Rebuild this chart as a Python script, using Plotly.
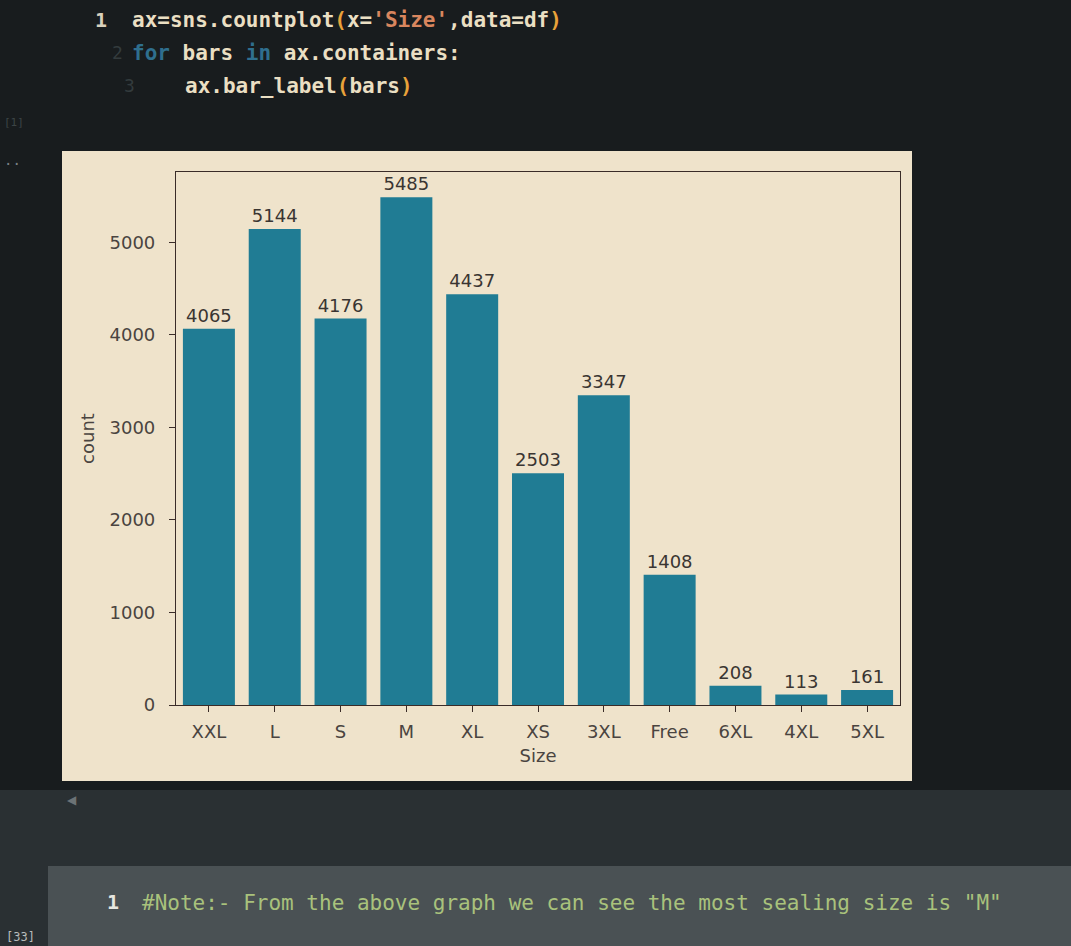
import plotly.graph_objects as go

sizes = ["XXL", "L", "S", "M", "XL", "XS", "3XL", "Free", "6XL", "4XL", "5XL"]
counts = [4065, 5144, 4176, 5485, 4437, 2503, 3347, 1408, 208, 113, 161]
y_ticks = [0, 1000, 2000, 3000, 4000, 5000]

W, H = 1071, 946
L, R, T, B = 176, 900, 172, 705  # plot area in pixels
pw, ph = R - L, B - T

def px(x):
    return (x - L) / pw

def py(y):
    return (B - y) / ph

fig = go.Figure()
fig.add_trace(go.Bar(
    x=sizes, y=counts, text=[str(c) for c in counts],
    textposition="outside", cliponaxis=False,
    textfont=dict(family="DejaVu Sans", size=18, color="#3a3532"),
    marker=dict(color="#207c94", line=dict(width=0)),
    width=0.79,
))

shapes = [
    dict(type="rect", xref="paper", yref="paper", x0=px(0), x1=px(W), y0=py(H), y1=py(0),
         fillcolor="#181c1e", line=dict(width=0), layer="below"),
    dict(type="rect", xref="paper", yref="paper", x0=px(0), x1=px(W), y0=py(H), y1=py(790),
         fillcolor="#2a3033", line=dict(width=0), layer="below"),
    dict(type="rect", xref="paper", yref="paper", x0=px(48), x1=px(W), y0=py(H), y1=py(866),
         fillcolor="#4a5154", line=dict(width=0), layer="below"),
    dict(type="rect", xref="paper", yref="paper", x0=px(62), x1=px(912), y0=py(781), y1=py(151),
         fillcolor="#efe3cb", line=dict(width=0), layer="below"),
]

code_font = dict(family="DejaVu Sans Mono", size=21, color="#eadfc3", weight="bold")

def ann(text, x, y, font, xanchor="left"):
    return dict(text=text, x=px(x), y=py(y), xref="paper", yref="paper",
                xanchor=xanchor, yanchor="middle", showarrow=False, font=font)

annotations = [
    ann("1", 93, 20, dict(family="DejaVu Sans Mono", size=20, color="#d8d0bc", weight="bold")),
    ann("ax=sns.countplot<span style='color:#e8a23a'>(</span>x=<span style='color:#d9865e'>'Size'</span>,data=df<span style='color:#e8a23a'>)</span>",
        130, 20, code_font),
    ann("2", 110, 53, dict(family="DejaVu Sans Mono", size=18, color="#333b3d")),
    ann("<span style='color:#2f6f8e'>for</span> bars <span style='color:#2f6f8e'>in</span> ax.containers:",
        130, 53, code_font),
    ann("3", 122, 86, dict(family="DejaVu Sans Mono", size=18, color="#333b3d")),
    ann("ax.bar_label<span style='color:#e8a23a'>(</span>bars<span style='color:#e8a23a'>)</span>",
        183, 86, code_font),
    ann("[1]", 2, 122, dict(family="DejaVu Sans Mono", size=11, color="#3c4446")),
    ann("..", 2, 160, dict(family="DejaVu Sans Mono", size=14, color="#7a8286")),
    ann("◀", 72, 800, dict(family="DejaVu Sans", size=12, color="#6c7376"), "center"),
    ann("1", 105, 902, dict(family="DejaVu Sans Mono", size=20, color="#e6e6e0", weight="bold")),
    ann('#Note:- From the above graph we can see the most sealing size is "M"',
        140, 903, dict(family="DejaVu Sans Mono", size=21, color="#a9c27c")),
    ann("[33]", 4, 937, dict(family="DejaVu Sans Mono", size=12, color="#b8bcbc")),
]

axis_font = dict(family="DejaVu Sans", size=18, color="#4a4440")
fig.update_layout(
    width=W, height=H, autosize=False,
    margin=dict(l=L, r=W - R, t=T, b=H - B, pad=0),
    paper_bgcolor="#181c1e", plot_bgcolor="#efe3cb",
    showlegend=False,
    shapes=shapes, annotations=annotations,
    xaxis=dict(
        range=[-0.5, 10.5], showgrid=False, zeroline=False,
        showline=True, linecolor="#3a2c28", linewidth=1.2, mirror=True,
        ticks="outside", ticklen=6, tickcolor="#3a2c28",
        tickfont=axis_font, ticklabelstandoff=4,
        title=dict(text="Size", font=axis_font, standoff=8),
    ),
    yaxis=dict(
        range=[0, 5759], tickvals=y_ticks, showgrid=False, zeroline=False,
        showline=True, linecolor="#3a2c28", linewidth=1.2, mirror=True,
        ticks="outside", ticklen=6, tickcolor="#3a2c28",
        tickfont=axis_font, ticklabelstandoff=10,
        title=dict(text="count", font=axis_font, standoff=10),
    ),
)

fig.write_html("out.html")
